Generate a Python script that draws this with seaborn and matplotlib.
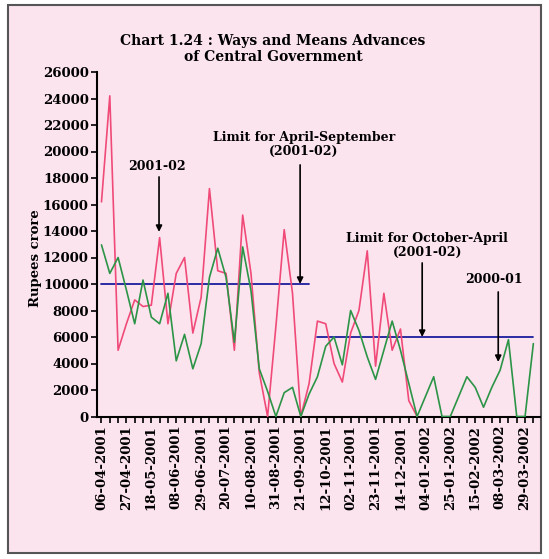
import matplotlib
matplotlib.use("Agg")
import matplotlib.pyplot as plt
import matplotlib.patches as mpatches
import seaborn as sns
import pandas as pd
import numpy as np

# weekly observations, 06-04-2001 onwards (53 weeks)
tick_labels = ["06-04-2001", "27-04-2001", "18-05-2001", "08-06-2001", "29-06-2001",
               "20-07-2001", "10-08-2001", "31-08-2001", "21-09-2001", "12-10-2001",
               "02-11-2001", "23-11-2001", "14-12-2001", "04-01-2002", "25-01-2002",
               "15-02-2002", "08-03-2002", "29-03-2002"]

wma_2001_02 = [16200, 24200, 5000, 7000, 8800, 8300, 8400, 13500, 7000, 10800,
               12000, 6300, 9000, 17200, 11000, 10800, 5000, 15200, 10800, 3300,
               0, 6800, 14100, 9300, 0, 2500, 7200, 7000, 4000, 2600,
               6300, 8000, 12500, 3800, 9300, 5000, 6600, 1200, 0]
wma_2000_01 = [12950, 10800, 12000, 9550, 7000, 10300, 7500, 7000, 9300, 4200,
               6200, 3600, 5500, 10500, 12700, 10500, 5600, 12800, 9500, 3600,
               1900, 0, 1800, 2200, 0, 1700, 3000, 5300, 6000, 3900,
               8000, 6500, 4500, 2800, 5000, 7200, 5000, 2500, 0, 1500,
               3000, 0, 0, 1500, 3000, 2200, 700, 2200, 3500, 5800,
               0, 0, 5500]
limit_apr_sep = 10000
limit_oct_apr = 6000
n_weeks = len(wma_2000_01)

rows = []
for i, v in enumerate(wma_2001_02):
    rows.append((i, v, "2001-02"))
for i, v in enumerate(wma_2000_01):
    rows.append((i, v, "2000-01"))
df = pd.DataFrame(rows, columns=["week", "value", "year"])

lim = pd.DataFrame({"week": list(range(26)) + list(range(26, n_weeks)),
                    "value": [limit_apr_sep] * 26 + [limit_oct_apr] * (n_weeks - 26),
                    "part": ["a"] * 26 + ["b"] * (n_weeks - 26)})

sns.set_style("ticks")
bg = "#fce4ef"
fig = plt.figure(figsize=(5.49, 5.59), dpi=100)
fig.patch.set_facecolor("white")
frame = mpatches.Rectangle((8 / 549, 1 - 553 / 559), 533 / 549, 548 / 559,
                           transform=fig.transFigure, facecolor=bg,
                           edgecolor="#555555", lw=1.5, zorder=-10)
fig.patches.append(frame)

ax = fig.add_axes([97 / 549, 1 - 416.5 / 559, 443 / 549, 344.5 / 559])
ax.set_zorder(1)
ax.set_facecolor("none")

sns.lineplot(data=lim, x="week", y="value", units="part", estimator=None,
             color="#1c1c9c", lw=1.3, ax=ax, zorder=2)
sns.lineplot(data=df, x="week", y="value", hue="year", hue_order=["2001-02", "2000-01"],
             palette=["#f04a78", "#2b9446"], lw=1.2, ax=ax, legend=False, zorder=3)

ax.set_xlim(-0.54, 52.8)
ax.set_ylim(0, 26000)
ax.set_yticks(range(0, 26001, 2000))
ax.set_xticks(range(n_weeks))
labels = [""] * n_weeks
for k, t in enumerate(tick_labels):
    labels[3 * k] = t
ax.set_xticklabels(labels, rotation=90)
ax.set_xlabel("")
ax.set_ylabel("")
for s in ["top", "right"]:
    ax.spines[s].set_visible(False)
for s in ["left", "bottom"]:
    ax.spines[s].set_color("black")
    ax.spines[s].set_linewidth(1.5)
    ax.spines[s].set_zorder(1)
ax.tick_params(axis="both", direction="out", length=4, width=1.2, color="black",
               labelcolor="black", pad=2)
for t in ax.get_xticklabels() + ax.get_yticklabels():
    t.set_fontfamily("DejaVu Serif")
    t.set_fontweight("bold")
    t.set_fontsize(9.5)

font = dict(family="DejaVu Serif", weight="bold", size=9, color="black")
arrow = dict(arrowstyle="-|>", color="black", lw=1.2, mutation_scale=9, shrinkA=0, shrinkB=0)

def ypx(y):
    return (416.5 - y) * 75.5

def xpx(x):
    return (x - 101.5) / 8.3

ax.text(xpx(157), ypx(167), "2001-02", ha="center", va="center", **font)
ax.annotate("", xy=(xpx(159), ypx(232)), xytext=(xpx(159), ypx(177)), arrowprops=arrow)

ax.text(xpx(304), ypx(145), "Limit for April-September\n(2001-02)", ha="center",
        va="center", linespacing=1.1, **font)
ax.annotate("", xy=(xpx(300), ypx(284)), xytext=(xpx(300), ypx(165)), arrowprops=arrow)

ax.text(xpx(427), ypx(246), "Limit for October-April\n(2001-02)", ha="center",
        va="center", linespacing=1.1, **font)
ax.annotate("", xy=(xpx(422), ypx(337)), xytext=(xpx(422), ypx(263)), arrowprops=arrow)

ax.text(xpx(494), ypx(280), "2000-01", ha="center", va="center", **font)
ax.annotate("", xy=(xpx(498), ypx(362)), xytext=(xpx(498), ypx(292)), arrowprops=arrow)

fig.text(273 / 549, 1 - 49 / 559, "Chart 1.24 : Ways and Means Advances\nof Central Government",
         ha="center", va="center", linespacing=1.15, fontfamily="DejaVu Serif",
         fontweight="bold", fontsize=10, color="black")
fig.text(36 / 549, 1 - 258 / 559, "Rupees crore", rotation=90, ha="center", va="center",
         fontfamily="DejaVu Serif", fontweight="bold", fontsize=9.5, color="black")

fig.savefig("out.png", dpi=100, facecolor=fig.get_facecolor())
